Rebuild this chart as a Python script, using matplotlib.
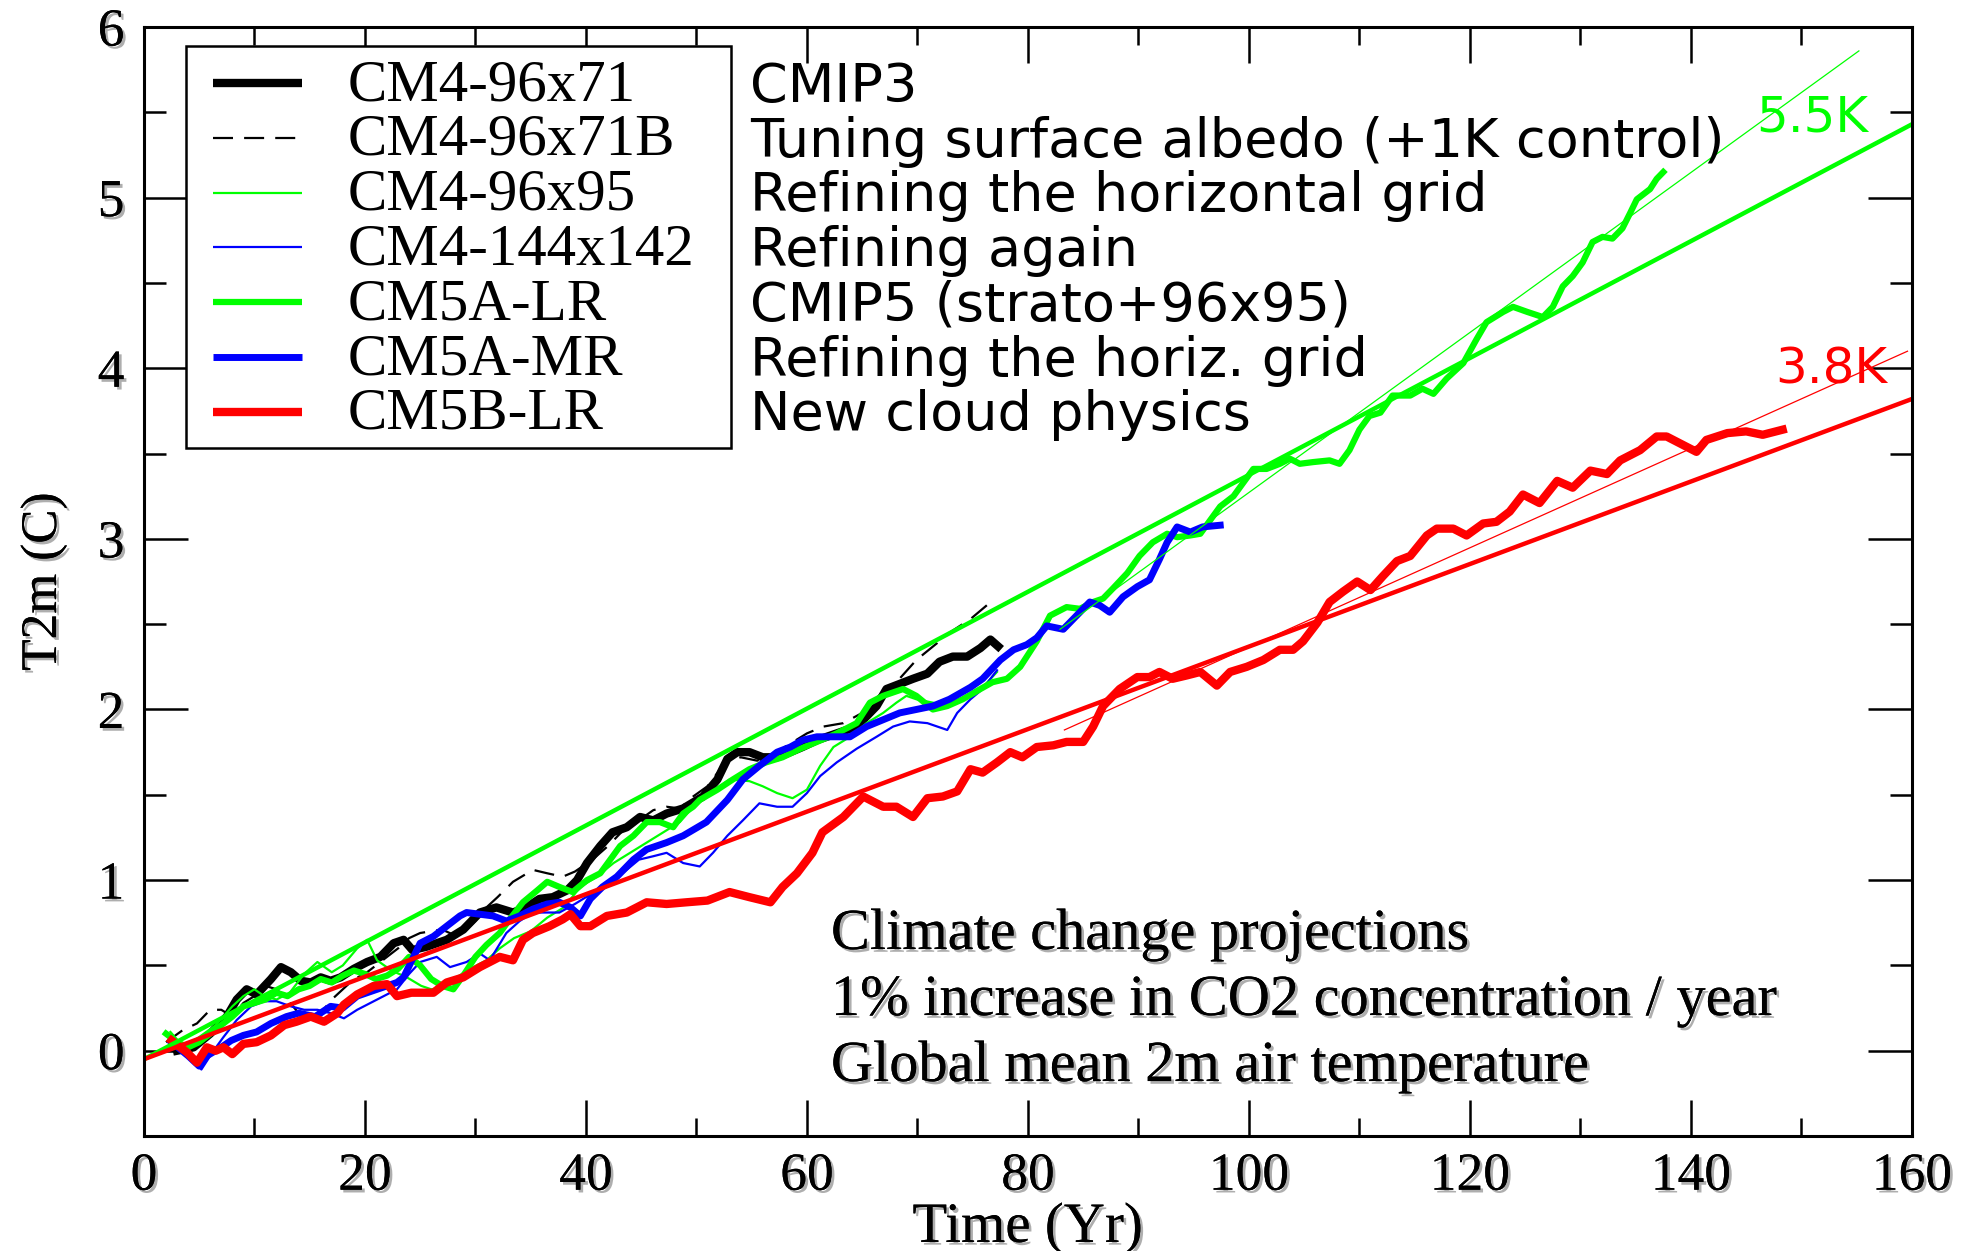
import matplotlib
matplotlib.use("Agg")
import matplotlib.pyplot as plt
import matplotlib.patheffects as pe
from matplotlib.patches import Rectangle
from matplotlib.ticker import MultipleLocator

# CM4-96x71 (CMIP3)
cm4_yr = [3, 4.5, 6, 7.5, 8.4, 9.3, 10.2, 11.5, 12.4, 13.3, 14.2, 15.1, 16, 16.9, 17.8, 19, 20.2, 21.4,
          22.6, 23.5, 24.3, 25.6, 27.4, 28.9, 30.4, 31.9, 33.4, 34.6, 35.8, 37, 38.3, 39.2, 40.1, 41.3,
          42.4, 43.7, 44.9, 46.1, 47.3, 48.8, 50.6, 51.9, 52.8, 53.7, 54.8, 56, 57.3, 58.5, 59.6, 60.9,
          62.7, 64.5, 66.3, 67.2, 68.4, 69.6, 70.9, 72, 73.2, 74.5, 75.7, 76.6, 77.3]
cm4_t = [0.0, 0.02, 0.1, 0.2, 0.3, 0.36, 0.33, 0.42, 0.49, 0.46, 0.41, 0.40, 0.43, 0.41, 0.43, 0.48, 0.52, 0.55,
         0.63, 0.65, 0.59, 0.61, 0.65, 0.71, 0.81, 0.84, 0.81, 0.84, 0.89, 0.9, 0.94, 1.0, 1.1, 1.2,
         1.28, 1.31, 1.37, 1.35, 1.39, 1.42, 1.49, 1.59, 1.71, 1.75, 1.75, 1.72, 1.72, 1.75, 1.78, 1.82,
         1.86, 1.90, 2.02, 2.12, 2.15, 2.18, 2.21, 2.28, 2.31, 2.31, 2.36, 2.41, 2.37]

# CM4-96x71B (albedo tuning)
cm4b_yr = [2, 3.5, 4.8, 6, 7, 8, 9, 10, 11, 12, 13, 14, 15, 16, 17, 18, 19, 20, 21, 22, 23, 24, 25, 26, 27,
           28, 29, 30, 31, 32, 33.4, 35.2, 36.5, 37.9, 39, 40.6, 42, 43.5, 45, 46.1, 47.3, 48.5, 49.7, 51,
           52.5, 54, 55.5, 57, 58.5, 60, 61.5, 63.3, 65, 66.5, 68.1, 69.9, 71.8, 72.9, 74.8, 75.9, 77]
cm4b_t = [0.05, 0.12, 0.16, 0.24, 0.24, 0.2, 0.28, 0.32, 0.38, 0.36, 0.3, 0.22, 0.17, 0.22, 0.3, 0.36, 0.42,
          0.45, 0.5, 0.55, 0.6, 0.66, 0.69, 0.7, 0.71, 0.68, 0.7, 0.76, 0.84, 0.9, 0.99, 1.06, 1.04, 1.02,
          1.05, 1.12, 1.2, 1.3, 1.36, 1.41, 1.43, 1.42, 1.49, 1.55, 1.68, 1.72, 1.7, 1.74, 1.8, 1.86, 1.9,
          1.92, 1.98, 2.08, 2.16, 2.29, 2.39, 2.45, 2.53, 2.59, 2.65]

# CM4-96x95
cm4g_yr = [2.4, 3.6, 5, 6.5, 8, 9, 10, 10.9, 12, 13.2, 14.5, 15.7, 17, 18, 19.3, 20.2, 21.1, 22.4, 23.8,
           25.1, 26, 27.1, 28.3, 29.5, 31, 32.2, 33.5, 35, 36.5, 38, 39.5, 41, 42.5, 44, 45.5, 47, 48.5,
           50, 51.5, 53, 54.8, 56, 57.3, 58.7, 60, 61.2, 62.4, 63.9, 65.4, 66.9, 68.1, 69, 69.9, 71.4,
           72.9, 74.5, 75.9, 77.2]
cm4g_t = [0.11, 0.02, 0.08, 0.15, 0.26, 0.32, 0.36, 0.32, 0.3, 0.34, 0.45, 0.52, 0.46, 0.5, 0.6, 0.65, 0.53,
          0.47, 0.43, 0.38, 0.36, 0.37, 0.43, 0.48, 0.53, 0.6, 0.66, 0.7, 0.78, 0.84, 0.96, 1.02, 1.1, 1.16,
          1.22, 1.28, 1.34, 1.45, 1.52, 1.59, 1.58, 1.55, 1.51, 1.48, 1.53, 1.67, 1.78, 1.84, 1.92, 1.98,
          2.04, 2.08, 2.06, 2.04, 2.02, 2.08, 2.13, 2.22]

# CM4-144x142
cm4h_yr = [3, 4.2, 5.2, 6.3, 7.2, 8.4, 9.7, 10.9, 12, 13.3, 14.5, 15.7, 16.9, 18.1, 19.3, 20.5, 21.7, 22.9,
           24, 25, 26.5, 27.7, 29.2, 30.4, 31.3, 32.8, 34, 35.2, 36.5, 37.6, 39, 40.5, 42, 43.5, 44.8,
           46.1, 47.3, 48.8, 50.3, 51.5, 52.8, 54.2, 55.7, 57.3, 58.7, 60, 61.2, 62.7, 64.5, 66.3, 67.8,
           69.3, 70.9, 72.7, 73.6, 74.8, 75.9, 77.2]
cm4h_t = [0.05, -0.03, -0.11, 0.0, 0.08, 0.18, 0.26, 0.29, 0.29, 0.26, 0.24, 0.24, 0.22, 0.19, 0.24, 0.28,
          0.32, 0.36, 0.45, 0.52, 0.55, 0.49, 0.52, 0.57, 0.53, 0.69, 0.76, 0.81, 0.81, 0.81, 0.86, 0.92,
          0.98, 1.05, 1.12, 1.14, 1.16, 1.10, 1.08, 1.16, 1.26, 1.35, 1.45, 1.43, 1.43, 1.51, 1.61, 1.69,
          1.77, 1.84, 1.9, 1.93, 1.92, 1.88, 1.98, 2.06, 2.12, 2.23]

# CM5A-LR (CMIP5)
cm5a_yr = [2, 3, 4, 5, 6, 7, 8, 9, 10, 11, 12, 13, 14, 15, 16, 17, 18, 19, 20, 21, 22, 23, 24, 25, 26, 27,
           28, 29, 30, 31, 32.2, 33.1, 34.3, 35.6, 36.5, 37.6, 38.8, 40.1, 41.3, 42.2, 43.1, 44.3, 45.5,
           46.7, 47.9, 48.8, 49.7, 50.3, 51.9, 53.3, 54.8, 56.3, 57.8, 59.4, 60.9, 62.7, 64.5, 65.7, 66.9,
           68.7, 69.9, 71.4, 72.7, 74.1, 75.7, 76.8, 78.1, 79.3, 80.8, 82, 83.5, 84.7, 85.9, 86.8, 87.7,
           89, 90.1, 91.3, 92.6, 93.5, 94.7, 95.6, 96.5, 97.4, 98.6, 99.5, 100.4, 101.6, 102.8, 103.7,
           104.6, 105.8, 107.3, 108.2, 109.1, 110, 110.9, 111.9, 113, 114.6, 115.7, 116.7, 117.9, 119.4,
           120.6, 121.5, 123, 123.9, 125.2, 126.6, 127.5, 128.4, 129.3, 130.2, 131.1, 132, 132.9, 133.8,
           134.5, 135.1, 136.3, 136.9, 137.5]
cm5a_t = [0.1, 0.05, 0.02, 0.05, 0.1, 0.15, 0.2, 0.26, 0.28, 0.3, 0.34, 0.32, 0.36, 0.38, 0.42, 0.4, 0.44,
          0.47, 0.45, 0.42, 0.44, 0.48, 0.55, 0.5, 0.42, 0.38, 0.36, 0.45, 0.55, 0.62, 0.69, 0.77, 0.87,
          0.94, 0.99, 0.96, 0.93, 1.0, 1.04, 1.12, 1.2, 1.26, 1.34, 1.34, 1.31, 1.39, 1.43, 1.47, 1.53,
          1.59, 1.65, 1.69, 1.72, 1.77, 1.81, 1.86, 1.92, 2.04, 2.08, 2.12, 2.08, 2.0, 2.02, 2.06, 2.12,
          2.16, 2.18, 2.25, 2.4, 2.55, 2.6, 2.59, 2.63, 2.65, 2.71, 2.8, 2.9, 2.98, 3.03, 3.01, 3.02, 3.03,
          3.11, 3.19, 3.25, 3.33, 3.41, 3.41, 3.44, 3.47, 3.44, 3.45, 3.46, 3.44, 3.52, 3.64, 3.72, 3.74,
          3.84, 3.84, 3.88, 3.85, 3.94, 4.03, 4.17, 4.27, 4.33, 4.36, 4.33, 4.30, 4.36, 4.48, 4.54, 4.62,
          4.74, 4.77, 4.76, 4.82, 4.91, 4.99, 5.05, 5.11, 5.15]

# CM5A-MR
cm5m_yr = [2.5, 4, 5, 5.7, 7, 7.9, 9, 10.2, 11.5, 12.9, 14, 15.5, 16.9, 18, 19.3, 21.1, 22.9, 23.5, 25,
           26.2, 27.4, 28.6, 29.2, 30.4, 31.6, 32.8, 34, 35.2, 36.5, 37.6, 38.6, 39.5, 40.4, 41.5, 42.8,
           44.3, 45.5, 47.3, 48.8, 50.9, 52.8, 54.2, 55.7, 57.3, 58.5, 59.6, 60.9, 62.1, 63.9, 65.4, 66.9,
           68.4, 69.9, 71.4, 72.9, 74.8, 75.9, 77.5, 78.7, 79.9, 80.8, 81.7, 83.2, 84.4, 85.6, 86.5, 87.4,
           88.6, 89.9, 91, 91.9, 92.6, 93.5, 94.7, 95.8, 97.4]
cm5m_t = [0.05, -0.03, -0.09, -0.03, 0.02, 0.06, 0.09, 0.11, 0.16, 0.2, 0.22, 0.2, 0.26, 0.25, 0.32, 0.36,
          0.4, 0.43, 0.63, 0.67, 0.73, 0.79, 0.81, 0.8, 0.79, 0.76, 0.79, 0.83, 0.86, 0.87, 0.84, 0.79,
          0.89, 0.96, 1.02, 1.12, 1.18, 1.22, 1.26, 1.34, 1.47, 1.59, 1.67, 1.75, 1.78, 1.82, 1.84, 1.84,
          1.84, 1.90, 1.94, 1.98, 2.0, 2.02, 2.06, 2.13, 2.18, 2.29, 2.35, 2.38, 2.42, 2.49, 2.47, 2.55,
          2.63, 2.61, 2.57, 2.66, 2.72, 2.76, 2.88, 2.98, 3.07, 3.04, 3.07, 3.08]

# CM5B-LR (new cloud physics)
cm5b_yr = [2.5, 3.9, 4.8, 5.7, 6.5, 7.2, 8, 9, 10.2, 11.5, 12.7, 13.8, 15.1, 16.3, 17.5, 18.1, 19.3, 20.8,
           22, 22.9, 24.2, 25.3, 26.2, 27.4, 28.9, 30.4, 32.2, 33.4, 34.3, 35.2, 36.7, 37.9, 38.6, 39.5,
           40.4, 41.9, 43.7, 45.5, 47.3, 49.1, 51, 53, 54.8, 56.7, 57.8, 59.1, 60.5, 61.4, 63.3, 65.1,
           66.9, 68.1, 69.6, 70.9, 72.3, 73.6, 74.8, 75.9, 77.2, 78.4, 79.5, 80.8, 82.3, 83.5, 85, 85.9,
           86.8, 88.3, 89.9, 91, 91.9, 93.1, 94.4, 95.6, 97.1, 98.3, 99.8, 101.3, 102.8, 104, 104.9,
           106.2, 107.3, 108.5, 109.8, 111, 112.1, 113.4, 114.6, 116.1, 117, 118.5, 119.7, 121.2, 122.4,
           123.6, 124.8, 126.3, 127.9, 129.3, 130.9, 132.4, 133.6, 135.4, 136.9, 137.8, 139, 140.5,
           141.4, 143.3, 145, 146.5, 148.3]
cm5b_t = [0.06, -0.01, -0.07, 0.02, 0.0, 0.02, -0.02, 0.04, 0.05, 0.09, 0.15, 0.17, 0.2, 0.17, 0.22, 0.27,
          0.33, 0.38, 0.39, 0.32, 0.34, 0.34, 0.34, 0.40, 0.43, 0.49, 0.55, 0.53, 0.65, 0.69, 0.73, 0.77,
          0.80, 0.73, 0.73, 0.79, 0.81, 0.87, 0.86, 0.87, 0.88, 0.93, 0.90, 0.87, 0.96, 1.04, 1.16, 1.28,
          1.37, 1.49, 1.43, 1.43, 1.37, 1.48, 1.49, 1.52, 1.65, 1.63, 1.69, 1.75, 1.72, 1.78, 1.79, 1.81,
          1.81, 1.90, 2.02, 2.12, 2.19, 2.19, 2.22, 2.18, 2.2, 2.22, 2.14, 2.22, 2.25, 2.29, 2.35, 2.35,
          2.40, 2.51, 2.63, 2.69, 2.75, 2.70, 2.78, 2.87, 2.90, 3.02, 3.06, 3.06, 3.02, 3.09, 3.10, 3.16,
          3.26, 3.21, 3.34, 3.30, 3.40, 3.38, 3.46, 3.52, 3.60, 3.60, 3.56, 3.51, 3.58, 3.62, 3.63, 3.61,
          3.64]

# trend lines (start year, end year, start value, end value)
green_fit = [0, 160, -0.05, 5.43]
red_fit = [0, 160, -0.05, 3.82]
green_late_fit = [82.9, 155.2, 2.47, 5.86]
red_late_fit = [83.3, 159.6, 1.88, 4.10]

labels = ["CM4-96x71", "CM4-96x71B", "CM4-96x95", "CM4-144x142", "CM5A-LR", "CM5A-MR", "CM5B-LR"]
descriptions = ["CMIP3", "Tuning surface albedo (+1K control)", "Refining the horizontal grid",
                "Refining again", "CMIP5 (strato+96x95)", "Refining the horiz. grid", "New cloud physics"]
notes = ["Climate change projections", "1% increase in CO2 concentration / year",
         "Global mean 2m air temperature"]

GREEN, BLUE, RED = "#00ff00", "#0000ff", "#ff0000"
SERIF = "Liberation Serif"
DASH = (9, 5)
shadow = [pe.withSimplePatchShadow(offset=(2, -2), shadow_rgbFace="0.55", alpha=0.7), pe.Normal()]

# line style per series, shared by the curves and the legend
styles = [
    dict(color="black", lw=6),
    dict(color="black", lw=1.6, dashes=DASH),
    dict(color=GREEN, lw=1.6),
    dict(color=BLUE, lw=1.6),
    dict(color=GREEN, lw=4.5),
    dict(color=BLUE, lw=5),
    dict(color=RED, lw=6),
]
series = [(cm4_yr, cm4_t), (cm4b_yr, cm4b_t), (cm4g_yr, cm4g_t), (cm4h_yr, cm4h_t),
          (cm5a_yr, cm5a_t), (cm5m_yr, cm5m_t), (cm5b_yr, cm5b_t)]

fig = plt.figure(figsize=(19.66, 12.51), dpi=100)
ax = fig.add_axes([0.0732, 0.0919, 0.8993, 0.8865])


def ax_xy(px, py):
    # pixel position in the 1966x1251 picture -> axes fraction
    return (px - 144) / 1768, (1136 - py) / 1109


for (x, y), st in zip(series, styles):
    ax.plot(x, y, **st)

ax.plot(green_fit[:2], green_fit[2:], color=GREEN, lw=3.2)
ax.plot(red_fit[:2], red_fit[2:], color=RED, lw=3.2)
ax.plot(green_late_fit[:2], green_late_fit[2:], color=GREEN, lw=0.9)
ax.plot(red_late_fit[:2], red_late_fit[2:], color=RED, lw=0.9)

ax.text(151, 5.47, "5.5K", color=GREEN, fontsize=36, ha="center", va="center")
ax.text(152.7, 3.99, "3.8K", color=RED, fontsize=36, ha="center", va="center")

ax.set_xlim(0, 160)
ax.set_ylim(-0.5, 6)
ax.xaxis.set_major_locator(MultipleLocator(20))
ax.xaxis.set_minor_locator(MultipleLocator(10))
ax.yaxis.set_major_locator(MultipleLocator(1))
ax.yaxis.set_minor_locator(MultipleLocator(0.5))
ax.tick_params(which="both", direction="in", top=True, right=True, width=1.8)
ax.tick_params(axis="x", which="major", length=26, pad=12)
ax.tick_params(axis="x", which="minor", length=13)
ax.tick_params(axis="y", which="major", length=32, pad=14)
ax.tick_params(axis="y", which="minor", length=16)
for sp in ax.spines.values():
    sp.set_linewidth(2.2)
for lbl in ax.get_xticklabels() + ax.get_yticklabels():
    lbl.set_fontfamily(SERIF)
    lbl.set_fontsize(38.5)
    lbl.set_path_effects(shadow)

ax.set_xlabel("Time (Yr)", fontfamily=SERIF, fontsize=41, labelpad=1, path_effects=shadow)
ax.set_ylabel("T2m (C)", fontfamily=SERIF, fontsize=37, labelpad=22, path_effects=shadow)

# legend box drawn by hand so its width matches the reference
x0, y0 = ax_xy(186, 448)
x1, y1 = ax_xy(731, 46)
ax.add_patch(Rectangle((x0, y0), x1 - x0, y1 - y0, transform=ax.transAxes, facecolor="white",
                       edgecolor="black", lw=1.8, zorder=5))
hx0, _ = ax_xy(213, 0)
hx1, _ = ax_xy(302, 0)
for i, (lab, st) in enumerate(zip(labels, styles)):
    _, hy = ax_xy(0, 83 + 54.8 * i)
    ax.plot([hx0, hx1], [hy, hy], transform=ax.transAxes, zorder=6, solid_capstyle="butt", **st)
    tx, ty = ax_xy(348, 100 + 54.8 * i)
    ax.text(tx, ty, lab, transform=ax.transAxes, fontfamily=SERIF, fontsize=42.5,
            va="baseline", ha="left", zorder=6)

for i, d in enumerate(descriptions):
    tx, ty = ax_xy(750, 102 + 54.7 * i)
    ax.text(tx, ty, d, transform=ax.transAxes, fontsize=39, va="baseline", ha="left", color="black")

for i, n in enumerate(notes):
    tx, ty = ax_xy(831, 949 + 66 * i)
    ax.text(tx, ty, n, transform=ax.transAxes, fontfamily=SERIF, fontsize=42,
            va="baseline", ha="left", path_effects=shadow)

fig.savefig("out.png", dpi=100)
